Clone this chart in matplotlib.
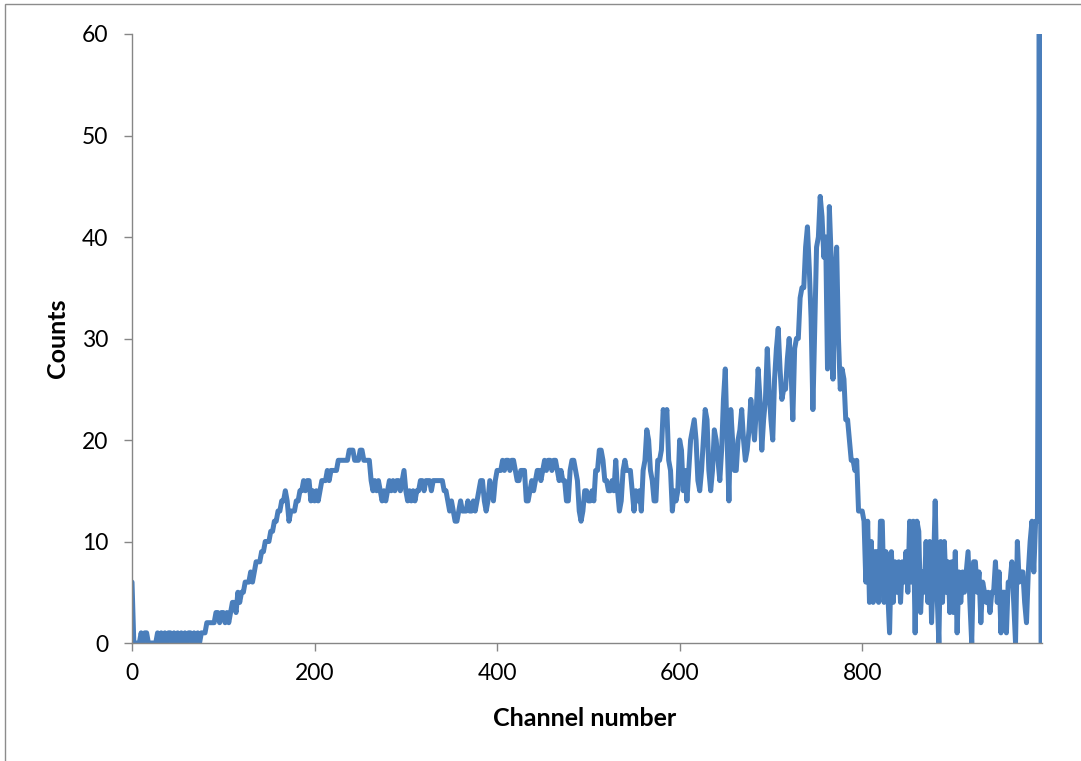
import numpy as np
import matplotlib
matplotlib.use("Agg")
import matplotlib.pyplot as plt
from matplotlib.patches import Rectangle

# Channel numbers (every second channel) and the counts recorded in each
channels = np.arange(0, 998, 2)

counts = [
    6, 0, 0, 0, 0, 1, 0, 1, 1, 0, 0, 0, 0, 0, 1, 0, 1, 0, 1, 0, 1, 1, 0, 1, 0,
    1, 0, 1, 0, 1, 0, 1, 1, 0, 1, 0, 1, 0, 1, 1, 1, 2, 2, 2, 2, 2, 3, 3, 2, 3,
    3, 2, 3, 2, 3, 4, 4, 3, 5, 4, 5, 5, 6, 6, 6, 7, 6, 7, 8, 8, 8, 9, 9, 10, 10,
    10, 11, 11, 12, 12, 13, 13, 14, 14, 15, 14, 12, 13, 13, 13, 14, 14, 15, 15, 16, 15, 16, 16, 14, 15,
    14, 15, 14, 15, 16, 16, 16, 17, 16, 17, 17, 17, 17, 18, 18, 18, 18, 18, 18, 19, 19, 19, 18, 18, 18,
    19, 19, 18, 18, 18, 18, 16, 15, 16, 15, 16, 15, 14, 15, 14, 15, 16, 15, 16, 15, 16, 16, 15, 16, 17,
    15, 14, 15, 14, 15, 14, 15, 15, 16, 16, 15, 16, 16, 16, 15, 16, 16, 16, 16, 16, 16, 15, 15, 14, 13,
    14, 13, 12, 12, 13, 14, 13, 13, 13, 14, 13, 13, 14, 13, 14, 15, 16, 16, 14, 13, 14, 16, 15, 14, 16,
    17, 17, 17, 18, 17, 18, 18, 17, 18, 18, 17, 16, 16, 17, 17, 17, 14, 14, 15, 16, 15, 16, 17, 17, 16,
    17, 18, 17, 18, 18, 17, 18, 18, 17, 16, 17, 16, 16, 14, 14, 17, 18, 18, 17, 16, 13, 12, 13, 15, 15,
    14, 14, 15, 14, 17, 17, 19, 19, 18, 16, 16, 15, 15, 16, 15, 18, 15, 13, 14, 17, 18, 17, 17, 17, 15,
    13, 15, 14, 15, 13, 17, 18, 21, 20, 17, 16, 14, 14, 18, 18, 19, 23, 22, 23, 18, 17, 13, 15, 14, 15,
    20, 19, 15, 17, 14, 17, 20, 21, 22, 20, 16, 15, 17, 20, 23, 22, 17, 15, 17, 21, 20, 18, 16, 19, 24,
    27, 20, 14, 23, 20, 17, 17, 20, 21, 23, 20, 18, 19, 21, 24, 22, 20, 23, 27, 24, 19, 22, 24, 29, 25,
    22, 20, 26, 29, 31, 27, 24, 25, 25, 28, 30, 27, 22, 29, 30, 30, 34, 35, 35, 39, 41, 37, 32, 23, 31,
    39, 40, 44, 42, 38, 40, 27, 43, 38, 26, 35, 39, 30, 25, 27, 26, 22, 22, 20, 18, 18, 17, 18, 13, 13,
    13, 12, 6, 12, 4, 10, 4, 9, 9, 4, 12, 12, 4, 9, 5, 1, 9, 4, 8, 5, 8, 4, 8, 6, 9,
    5, 12, 6, 12, 1, 12, 11, 3, 7, 5, 10, 4, 10, 2, 7, 14, 5, 0, 10, 4, 10, 5, 8, 3, 8,
    3, 9, 1, 7, 4, 7, 5, 7, 9, 4, 0, 8, 8, 5, 7, 2, 6, 5, 4, 5, 3, 5, 5, 8, 4,
    7, 1, 5, 5, 1, 6, 6, 8, 4, 0, 10, 6, 7, 7, 4, 2, 7, 10, 12, 7, 12, 12, 60, 0,
]

x_ticks = [0, 200, 400, 600, 800]
y_ticks = [0, 10, 20, 30, 40, 50, 60]

W, H = 1081, 761
fig = plt.figure(figsize=(W / 100, H / 100), dpi=100)
fig.patch.set_facecolor("white")

# chart-area frame
fig.patches.append(Rectangle((5 / W, -0.05), 1.2, 1 - 4 / H + 0.05,
                             transform=fig.transFigure, fill=False,
                             edgecolor="#8c8c8c", linewidth=1.0))

ax = fig.add_axes([132 / W, 1 - 643 / H, (1042 - 132) / W, (643 - 34) / H])

ax.plot(channels, counts, color="#4a7ebb", linewidth=3.6,
        solid_joinstyle="round", solid_capstyle="round")

ax.set_xlim(0, 997)
ax.set_ylim(0, 60)
ax.set_xticks(x_ticks)
ax.set_yticks(y_ticks)

font = "Lato"
spine_col = "#868686"
for side in ("top", "right"):
    ax.spines[side].set_visible(False)
for side in ("left", "bottom"):
    ax.spines[side].set_color(spine_col)
    ax.spines[side].set_linewidth(1.0)

ax.tick_params(axis="both", direction="out", length=5.5, width=1.0,
               color=spine_col, labelsize=16.5, labelcolor="black")
ax.tick_params(axis="x", pad=9)
ax.tick_params(axis="y", pad=11.5)
for lab in ax.get_xticklabels() + ax.get_yticklabels():
    lab.set_fontfamily(font)

fig.text(585 / W, 1 - 718 / H, "Channel number", ha="center", va="center",
         fontsize=18, fontweight="bold", family=font)
fig.text(57 / W, 1 - 338 / H, "Counts", ha="center", va="center",
         rotation=90, fontsize=18, fontweight="bold", family=font)

fig.savefig("out.png", dpi=100)
